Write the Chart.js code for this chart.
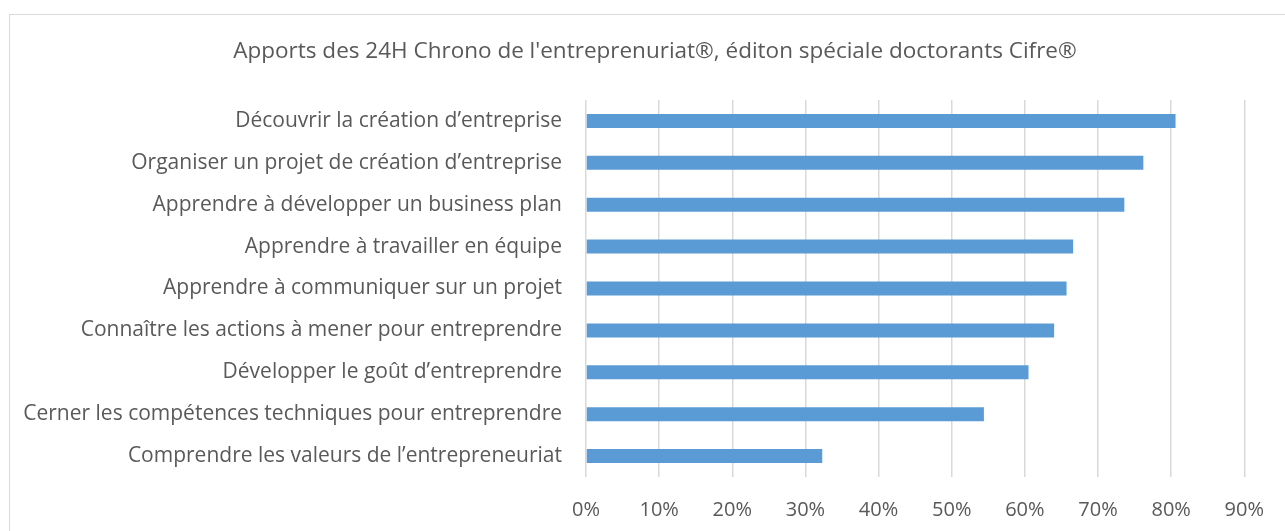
<!DOCTYPE html>
<html>
<head>
<meta charset="utf-8">
<script src="https://cdn.jsdelivr.net/npm/chart.js@4.4.0/dist/chart.umd.min.js"></script>
<style>
  html, body { margin: 0; padding: 0; background: #fff; overflow: hidden; }
  #frame { position: absolute; left: 9px; top: 14px; width: 1300px; height: 600px; border: 1.5px solid #d9d9d9; }
  #wrap { position: absolute; left: 0; top: 0; width: 1285px; height: 531px; }
</style>
</head>
<body>
<div id="frame"></div>
<div id="wrap"><canvas id="chart" width="1285" height="531"></canvas></div>
<script>
// categories, top to bottom
const categories = [
  "Découvrir la création d’entreprise",
  "Organiser un projet de création d’entreprise",
  "Apprendre à développer un business plan",
  "Apprendre à travailler en équipe",
  "Apprendre à communiquer sur un projet",
  "Connaître les actions à mener pour entreprendre",
  "Développer le goût d’entreprendre",
  "Cerner les compétences techniques pour entreprendre",
  "Comprendre les valeurs de l’entrepreneuriat"
]
const values = [0.806, 0.762, 0.736, 0.666, 0.657, 0.640, 0.605, 0.544, 0.323]
const xTicks = [0, 0.1, 0.2, 0.3, 0.4, 0.5, 0.6, 0.7, 0.8, 0.9]
const title = "Apports des 24H Chrono de l'entreprenuriat®, éditon spéciale doctorants Cifre®"

const textColor = '#595959'
const fontFamily = "'Open Sans', 'Noto Sans', sans-serif"

// the original title sits a bit right of the canvas centre
const shiftTitle = {
  id: 'shiftTitle',
  afterLayout(chart) {
    if (chart.titleBlock) {
      chart.titleBlock.left = 65
      chart.titleBlock.right = 1245
    }
  }
}

new Chart(document.getElementById('chart'), {
  type: 'bar',
  data: {
    labels: categories,
    datasets: [{
      data: values,
      backgroundColor: '#5b9bd5',
      borderWidth: 0,
      barPercentage: 1,
      categoryPercentage: 0.334
    }]
  },
  options: {
    indexAxis: 'y',
    responsive: false,
    animation: false,
    layout: { padding: { top: 0, left: 0, right: 40, bottom: 0 } },
    plugins: {
      legend: { display: false },
      tooltip: { enabled: false },
      title: {
        display: true,
        text: title,
        color: textColor,
        font: { family: fontFamily, size: 22.5, weight: 'normal', lineHeight: 1.2 },
        padding: { top: 38.5, bottom: 34.5 }
      }
    },
    scales: {
      x: {
        min: 0,
        max: 0.9,
        afterBuildTicks: (scale) => { scale.ticks = xTicks.map(v => ({ value: v })) },
        afterFit: (scale) => { scale.height = 54 },
        ticks: {
          color: textColor,
          font: { family: fontFamily, size: 20, lineHeight: 1.2 },
          padding: 21,
          maxRotation: 0,
          callback: (v) => Math.round(v * 100) + '%'
        },
        grid: { color: '#d9d9d9', lineWidth: 1.5, drawTicks: false },
        border: { display: false }
      },
      y: {
        afterFit: (scale) => { scale.width = 586 },
        ticks: {
          color: textColor,
          font: { family: fontFamily, size: 21 },
          padding: 24
        },
        grid: { display: false, drawTicks: false },
        border: { display: false }
      }
    }
  },
  plugins: [shiftTitle]
})
</script>
</body>
</html>
